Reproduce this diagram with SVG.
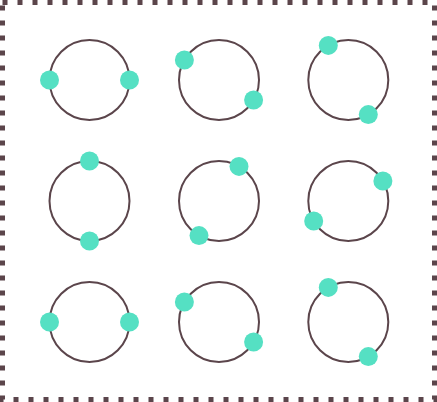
<svg xmlns="http://www.w3.org/2000/svg" width="437" height="402" viewBox="0 0 437 402">
<style>
.frame{fill:none;stroke:#5b454b;stroke-width:5;stroke-dasharray:5 10}
.ring{fill:none;stroke:#5b454b;stroke-width:2}
.dot{fill:#55e0c3}
</style>
<rect width="437" height="402" fill="#ffffff"/>
<g id="connectors"></g>
<rect class="frame" x="2.5" y="2.5" width="432" height="397"/>
<g id="n1"><circle class="ring" cx="89.5" cy="80" r="40"/><circle class="dot" cx="49.5" cy="80" r="9.5"/><circle class="dot" cx="129.5" cy="80" r="9.5"/></g>
<g id="n2"><circle class="ring" cx="219" cy="80" r="40"/><circle class="dot" cx="184.4" cy="60" r="9.5"/><circle class="dot" cx="253.6" cy="100" r="9.5"/></g>
<g id="n3"><circle class="ring" cx="348.3" cy="80" r="40"/><circle class="dot" cx="328.3" cy="45.4" r="9.5"/><circle class="dot" cx="368.3" cy="114.6" r="9.5"/></g>
<g id="n4"><circle class="ring" cx="89.5" cy="201" r="40"/><circle class="dot" cx="89.5" cy="161" r="9.5"/><circle class="dot" cx="89.5" cy="241" r="9.5"/></g>
<g id="n5"><circle class="ring" cx="219" cy="201" r="40"/><circle class="dot" cx="239" cy="166.4" r="9.5"/><circle class="dot" cx="199" cy="235.6" r="9.5"/></g>
<g id="n6"><circle class="ring" cx="348.3" cy="201" r="40"/><circle class="dot" cx="382.9" cy="181" r="9.5"/><circle class="dot" cx="313.7" cy="221" r="9.5"/></g>
<g id="n7"><circle class="ring" cx="89.5" cy="322" r="40"/><circle class="dot" cx="49.5" cy="322" r="9.5"/><circle class="dot" cx="129.5" cy="322" r="9.5"/></g>
<g id="n8"><circle class="ring" cx="219" cy="322" r="40"/><circle class="dot" cx="184.4" cy="302" r="9.5"/><circle class="dot" cx="253.6" cy="342" r="9.5"/></g>
<g id="n9"><circle class="ring" cx="348.3" cy="322" r="40"/><circle class="dot" cx="328.3" cy="287.4" r="9.5"/><circle class="dot" cx="368.3" cy="356.6" r="9.5"/></g>
</svg>
